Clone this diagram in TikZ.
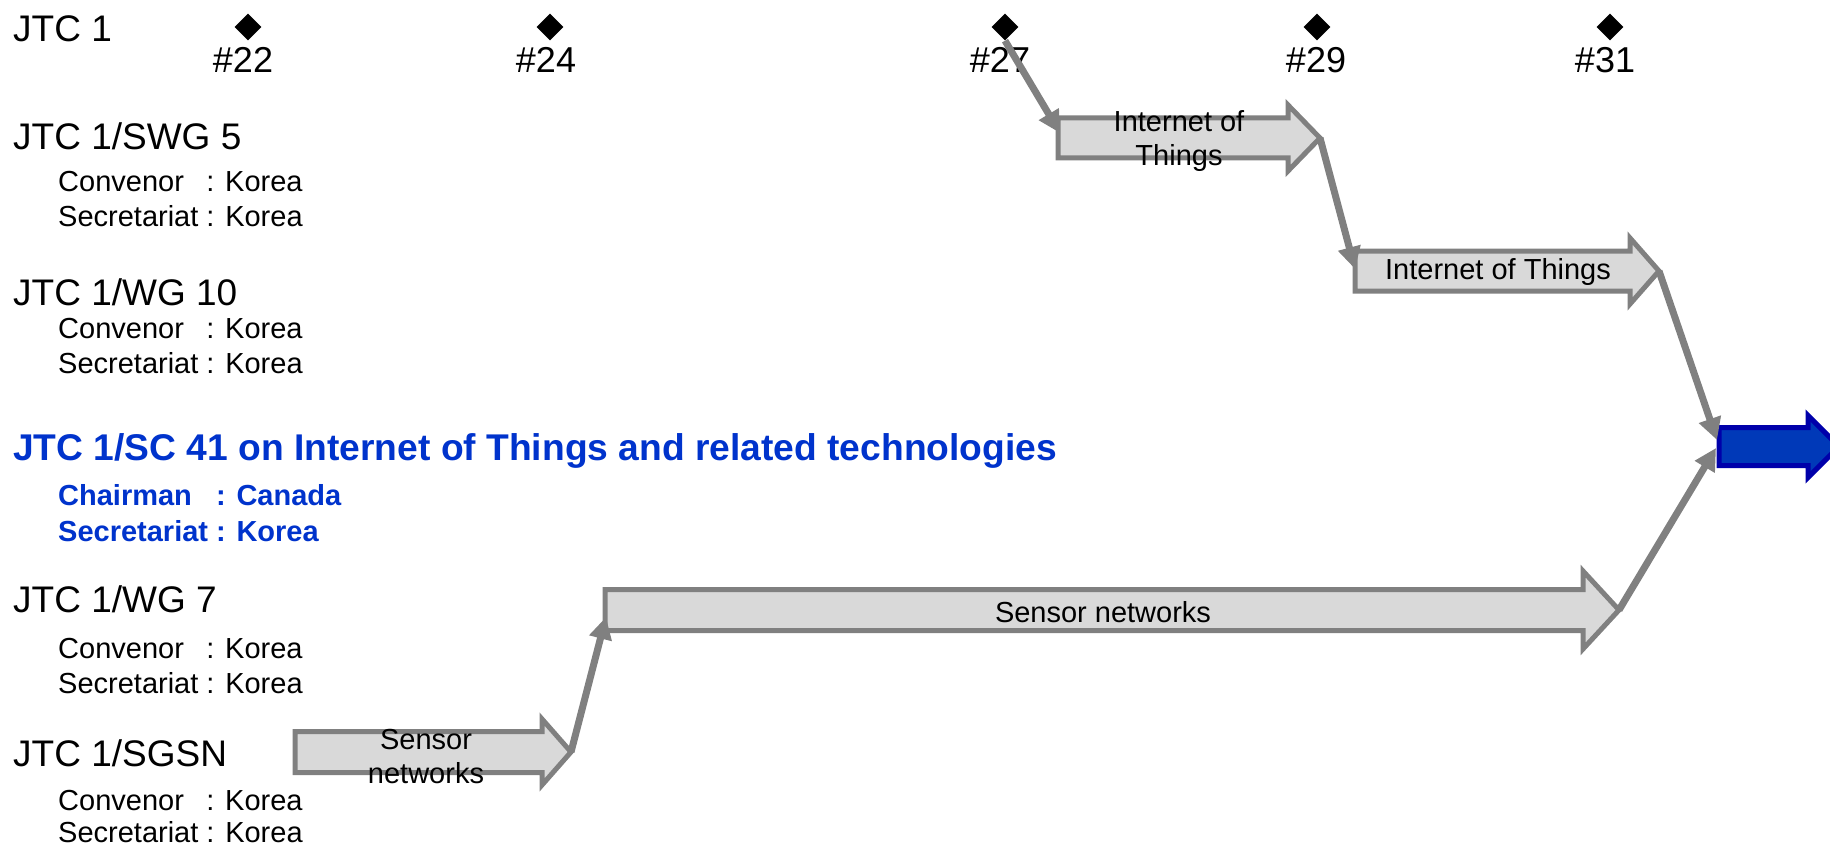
\documentclass[tikz,border=0pt]{standalone}
\usepackage{fontspec}
\setmainfont{Liberation Sans}
\usetikzlibrary{arrows.meta,shapes.geometric}
\definecolor{boxgray}{RGB}{217,217,217}
\definecolor{linegray}{RGB}{128,128,128}
\definecolor{titleblue}{RGB}{0,51,204}
\definecolor{arrowblue}{RGB}{0,57,184}
\definecolor{arrowedge}{RGB}{0,0,170}
% #1 name, #2 left x, #3 head base x, #4 tip x, #5 centre y, #6 half body, #7 half head, #8 style
\newcommand\flowbox[8]{%
  \draw[#8] (#2,#5-#6) -- (#3,#5-#6) -- (#3,#5-#7) -- (#4,#5) -- (#3,#5+#7)
    -- (#3,#5+#6) -- (#2,#5+#6) -- cycle;
  \coordinate (#1-tip) at (#4,#5);
}
\begin{document}
\begin{tikzpicture}[x=1pt,y=-1pt,
  mainlbl/.style={font=\fontsize{37}{44}\selectfont, anchor=base west, inner sep=0pt},
  sublbl/.style={font=\fontsize{29}{35}\selectfont, anchor=base west, inner sep=0pt},
  bluemain/.style={font=\fontsize{37.2}{44}\selectfont\bfseries, text=titleblue, anchor=base west, inner sep=0pt},
  bluesub/.style={font=\fontsize{29}{35}\selectfont\bfseries, text=titleblue, anchor=base west, inner sep=0pt},
  milelbl/.style={font=\fontsize{36}{43}\selectfont, anchor=base, inner sep=0pt},
  gem/.style={diamond, fill=black, minimum width=27pt, minimum height=27pt, inner sep=0pt},
  conn/.style={draw=linegray, line width=7pt, -{Triangle[length=22pt,width=22pt]}},
  gbox/.style={draw=linegray, fill=boxgray, line width=5pt, line join=miter},
  bbox/.style={draw=arrowedge, fill=arrowblue, line width=5pt, line join=miter},
  atext/.style={font=\fontsize{29}{34}\selectfont, align=center, inner sep=0pt}
]
\useasboundingbox (0,0) rectangle (1830,845);

% meeting milestones
\node[gem] (d22) at (248,27) {};
\node[gem] (d24) at (550,27) {};
\node[gem] (d27) at (1005,27) {};
\node[gem] (d29) at (1317,27) {};
\node[gem] (d31) at (1610,27) {};
\node[milelbl] (m22) at (243,73) {\#22};
\node[milelbl] (m24) at (546,73) {\#24};
\node[milelbl] (m27) at (1000,73) {\#27};
\node[milelbl] (m29) at (1316,73) {\#29};
\node[milelbl] (m31) at (1605,73) {\#31};

% left labels
\node[mainlbl] (jtc) at (13,42) {JTC 1};
\node[mainlbl] (swg) at (13,150) {JTC 1/SWG 5};
\node[sublbl] (swgc) at (58,192) {\rlap{Convenor}\phantom{Secretariat }: Korea};
\node[sublbl] (swgs) at (58,226) {Secretariat : Korea};
\node[mainlbl] (wgten) at (13,305) {JTC 1/WG 10};
\node[sublbl] (wgtenc) at (58,338) {\rlap{Convenor}\phantom{Secretariat }: Korea};
\node[sublbl] (wgtens) at (58,373) {Secretariat : Korea};
\node[bluemain] (sc) at (13,460) {JTC 1/SC 41 on Internet of Things and related technologies};
\node[bluesub] (scc) at (58,505) {\rlap{Chairman}\phantom{Secretariat }: Canada};
\node[bluesub] (scs) at (58,541) {Secretariat : Korea};
\node[mainlbl] (wgseven) at (13,612) {JTC 1/WG 7};
\node[sublbl] (wgsevenc) at (58,658) {\rlap{Convenor}\phantom{Secretariat }: Korea};
\node[sublbl] (wgsevens) at (58,693) {Secretariat : Korea};
\node[mainlbl] (sgsn) at (13,766) {JTC 1/SGSN};
\node[sublbl] (sgsnc) at (58,810) {\rlap{Convenor}\phantom{Secretariat }: Korea};
\node[sublbl] (sgsns) at (58,842) {Secretariat : Korea};

% block arrows
\flowbox{iota}{1058}{1288}{1320}{138}{20}{33}{gbox}
\flowbox{iotb}{1355}{1630}{1659}{271}{20}{33}{gbox}
\flowbox{sna}{295}{542}{571}{752}{20.5}{33}{gbox}
\flowbox{snb}{605}{1583}{1619}{610}{20.5}{39}{gbox}
\flowbox{sco}{1719}{1808}{1839}{446.5}{19}{31}{bbox}

\node[atext] (iotatxt) at (1179,141) {Internet of\\Things};
\node[atext] (iotbtxt) at (1498,272) {Internet of Things};
\node[atext] (snatxt) at (426,757) {Sensor\\networks};
\node[atext] (snbtxt) at (1103,612) {Sensor networks};

% connector end points
\coordinate (iota-in) at (1060,133);
\coordinate (iotb-in) at (1355,269);
\coordinate (sco-ina) at (1717,440);
\coordinate (sco-inb) at (1716,448);
\coordinate (snb-in) at (606,617);

\draw[conn] (d27.south) -- (iota-in);
\draw[conn] (iota-tip) -- (iotb-in);
\draw[conn] (iotb-tip) -- (sco-ina);
\draw[conn] (sna-tip) -- (snb-in);
\draw[conn] (snb-tip) -- (sco-inb);
\end{tikzpicture}
\end{document}
